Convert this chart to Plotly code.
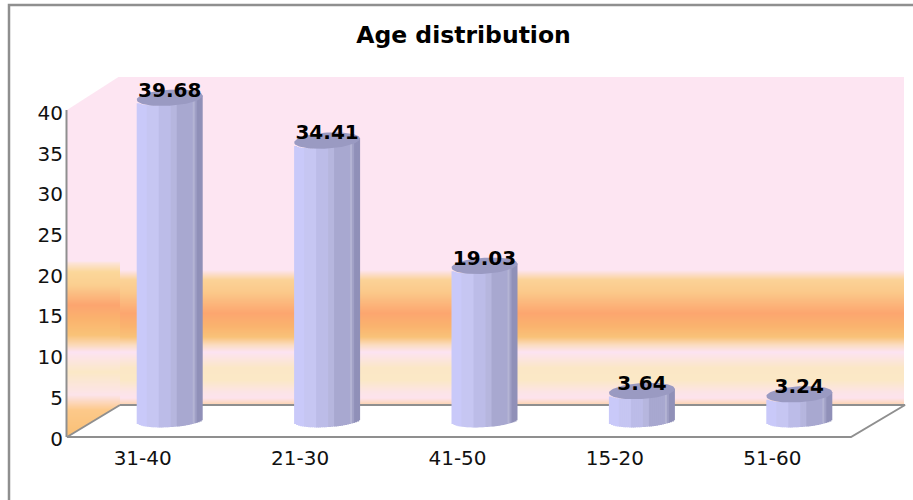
import numpy as np
import plotly.graph_objects as go

# ---------- data ----------
categories = ["31-40", "21-30", "41-50", "15-20", "51-60"]
values = [39.68, 34.41, 19.03, 3.64, 3.24]
value_labels = ["39.68", "34.41", "19.03", "3.64", "3.24"]
y_ticks = [0, 5, 10, 15, 20, 25, 30, 35, 40]
title_text = "Age distribution"

# ---------- look ----------
W, H = 913, 500
FONT = "DejaVu Sans"
GREY = "#8f8f8f"
PLOT_L, PLOT_R, PLOT_T, PLOT_B = 64, 851, 110, 437   # drawn frame
AXIS_T, AXIS_B = 113, 438.5                          # pixel rows of 40 and 0 on the value axis
WALL_L, WALL_R, WALL_T, WALL_B = 120, 904, 77, 405
PX_PER_CAT = (PLOT_R - PLOT_L) / len(categories)
PX_PER_UNIT = (AXIS_B - AXIS_T) / 40
Y_MAX = 45                     # room above 40 for the column tops; ticks stop at 40
AXIS_T_EXT = AXIS_B - Y_MAX * PX_PER_UNIT

DEPTH_X = 27 / PX_PER_CAT      # 3-D shift of the columns, in category units
DEPTH_Y = 2.2                  # ... and in value units
HALF_W = 33 / PX_PER_CAT
TOP_B = 8 / PX_PER_UNIT
BOT_B = 6.5 / PX_PER_UNIT
TILT = 2 / PX_PER_UNIT

# cylinder facets: (right edge as fraction of the width, colour)
facets = [
    (0.14, "#c9c9f9"), (0.16, "#d6d6fa"), (0.34, "#c6c6f2"), (0.50, "#bcbce8"),
    (0.60, "#b6b6de"), (0.62, "#c4c4e4"), (0.86, "#a8a8d0"), (0.88, "#b4b4d4"),
    (0.91, "#a0a0c6"), (1.00, "#9090b8"),
]
TOP_COLOUR = "#9a9ac2"

back_stops = [
    (77, "#fde5f2"), (270, "#fde5f2"), (280, "#fbd296"), (292, "#fbc98a"), (313, "#fca66f"),
    (326, "#fab26e"), (337, "#f9c278"), (345, "#fbdcc0"), (352, "#fce3f2"), (368, "#fbe7c6"),
    (380, "#fbe8c6"), (392, "#fce4e6"), (398, "#fde3ec"), (405, "#fcd3ae"),
]
side_stops = [
    (77, "#fde5f2"), (261, "#fde5f2"), (263, "#fde4d8"), (272, "#fbd79a"), (285, "#fbcf90"),
    (305, "#fca56f"), (320, "#fab36e"), (335, "#f9c277"), (345, "#fbd9b8"), (352, "#fce3f2"),
    (372, "#fbe8c6"), (395, "#fce4ea"), (410, "#fdc98a"), (437, "#f9bf75"),
]


def wall(x0, x1, stops):
    y0, y1 = stops[0][0], stops[-1][0]
    edges = np.arange(y0, y1 + 1, 1.0)
    mids = (edges[:-1] + edges[1:]) / 2
    return go.Heatmap(
        x=[x0, x1], y=edges, z=[[m] for m in mids], zmin=y0, zmax=y1,
        colorscale=[[(s - y0) / (y1 - y0), c] for s, c in stops],
        showscale=False, hoverinfo="skip", xaxis="x", yaxis="y",
    )


def poly(xs, ys, colour):
    return go.Scatter(x=xs, y=ys, mode="lines", fill="toself", fillcolor=colour,
                      line=dict(width=0), hoverinfo="skip", xaxis="x", yaxis="y")


def line(xs, ys, width=2):
    return go.Scatter(x=xs, y=ys, mode="lines", line=dict(color=GREY, width=width),
                      hoverinfo="skip", xaxis="x", yaxis="y")


fig = go.Figure()

# background layer, in pixel coordinates of the page
fig.add_trace(wall(WALL_L, WALL_R, back_stops))
fig.add_trace(wall(PLOT_L + 3, WALL_L, side_stops))
fig.add_trace(poly([PLOT_L + 3, WALL_L, PLOT_L + 3], [WALL_T - 1, WALL_T - 1, PLOT_T], "#ffffff"))
fig.add_trace(poly([PLOT_L + 3, WALL_L, WALL_L, PLOT_L + 3], [PLOT_B, WALL_B, PLOT_B + 1, PLOT_B + 1], "#ffffff"))
fig.add_trace(line([WALL_L, WALL_R + 1, PLOT_R, PLOT_L + 3, WALL_L], [WALL_B, WALL_B, PLOT_B, PLOT_B, WALL_B]))
fig.add_trace(line([PLOT_L + 2.5, PLOT_L + 2.5], [PLOT_T, PLOT_B]))
fig.add_trace(line([9, 9, W], [H, 5, 5], 2.5))

# column slices
idx = np.arange(len(categories))
tops = np.array(values)
n = 33
for i in range(n):
    f0, f1 = i / n, (i + 1) / n
    fm = (f0 + f1) / 2
    colour = next(c for e, c in facets if fm <= e)
    t = 2 * fm - 1
    arc = np.sqrt(1 - t * t)
    base = DEPTH_Y + TILT * t - BOT_B * arc
    fig.add_trace(go.Bar(
        x=idx, y=tops + TILT * t, base=base, width=(f1 - f0) * 2 * HALF_W * (1.5 if i < n - 1 else 1),
        offset=DEPTH_X - HALF_W + f0 * 2 * HALF_W,
        marker=dict(color=colour, line=dict(width=0), opacity=1),
        hoverinfo="skip", xaxis="x2", yaxis="y2",
    ))

# column tops
theta = np.linspace(0, 2 * np.pi, 73)
for k, v in zip(idx, values):
    c, s = np.cos(theta), np.sin(theta)
    fig.add_trace(go.Scatter(
        x=k + DEPTH_X + HALF_W * c, y=v + DEPTH_Y + TOP_B * s + TILT * c,
        mode="lines", fill="toself", fillcolor=TOP_COLOUR, line=dict(width=0),
        hoverinfo="skip", xaxis="x2", yaxis="y2",
    ))

# value labels
fig.add_trace(go.Scatter(
    x=idx + DEPTH_X, y=tops + DEPTH_Y + 0.75, text=value_labels, mode="text",
    textposition="middle center", cliponaxis=False,
    textfont=dict(family=FONT, size=20, color="#000000", weight="bold"),
    hoverinfo="skip", xaxis="x2", yaxis="y2",
))

fig.update_layout(
    width=W, height=H, margin=dict(l=0, r=0, t=0, b=0), autosize=False,
    paper_bgcolor="#ffffff", plot_bgcolor="rgba(0,0,0,0)", showlegend=False,
    barmode="overlay",
    title=dict(text=title_text, x=463.5 / W, y=1 - 35 / H, xanchor="center", yanchor="middle",
               xref="paper", yref="paper",
               font=dict(family=FONT, size=23.5, color="#000000", weight="bold")),
    xaxis=dict(domain=[0, 1], range=[0, W], visible=False, fixedrange=True, automargin=False),
    yaxis=dict(domain=[0, 1], range=[H, 0], visible=False, fixedrange=True, automargin=False),
    xaxis2=dict(
        domain=[PLOT_L / W, PLOT_R / W], range=[-0.5, len(categories) - 0.5], anchor="y2",
        tickmode="array", tickvals=list(idx), ticktext=categories, showgrid=False, zeroline=False,
        ticks="outside", ticklen=1, tickcolor="rgba(0,0,0,0)", showline=False,
        tickfont=dict(family=FONT, size=20, color="#111111"), fixedrange=True, automargin=False,
    ),
    yaxis2=dict(
        domain=[1 - AXIS_B / H, 1 - AXIS_T_EXT / H], range=[0, Y_MAX], anchor="x2",
        tickmode="array", tickvals=y_ticks, showgrid=False, zeroline=False,
        ticks="", tickfont=dict(family=FONT, size=20, color="#111111"),
        fixedrange=True, automargin=False,
    ),
)

fig.write_html("out.html", config=dict(displayModeBar=False),
               post_script="document.body.style.margin='0';")
